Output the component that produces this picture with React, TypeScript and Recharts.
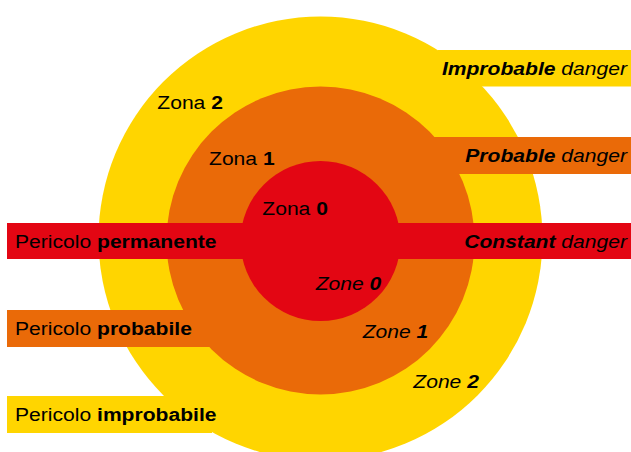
import React from 'react';
import { ComposedChart, XAxis, YAxis, Scatter, Cell } from 'recharts';

// Zones (outer to inner)
const zoneLevels = [2, 1, 0];
const zoneCenterX = [320.5, 320.5, 320.5];
const zoneCenterY = [238.5, 240.5, 241];
const zoneRadius = [222, 154, 80];
const zoneWordIt = 'Zona';
const zoneWordEn = 'Zone';

// Danger bands (same order as zones)
const dangerWordIt = 'Pericolo';
const dangerIt = ['improbabile', 'probabile', 'permanente'];
const dangerEn = ['Improbable', 'Probable', 'Constant'];
const dangerWordEn = 'danger';
const leftBandTop = [396, 310, 223];
const leftBandBottom = [433, 347, 259];
const leftBandStart = [7, 7, 7];
const leftBandEnd = [212, 215, 330];
const rightBandTop = [50, 137, 223];
const rightBandBottom = [86.5, 174, 259];
const rightBandStart = [438, 430, 320];
const rightBandEnd = [631, 631, 631];

// Label anchor points for zone names
const itLabelX = [157.3, 209, 262.3];
const itLabelY = [109, 165, 215];
const enLabelX = [413.3, 362.7, 315.7];
const enLabelY = [388.3, 338.3, 290];

const COLORS = ['#FFD500', '#EA6A08', '#E30613'];
const FONT = "'Liberation Sans', Arial, Helvetica, sans-serif";
const FS = 19;
const SX = 1.11;

// chart domain equals pixel size, so 1 data unit = 1 px
const W = 631;
const H = 452;

const zoneData = zoneLevels.map((lvl, i) => ({ x: zoneCenterX[i], y: zoneCenterY[i], r: zoneRadius[i], level: lvl, idx: i }));
const leftBandData = zoneLevels.map((lvl, i) => ({
  x: leftBandStart[i], y: leftBandTop[i], w: leftBandEnd[i] - leftBandStart[i], h: leftBandBottom[i] - leftBandTop[i], idx: i,
}));
const rightBandData = zoneLevels.map((lvl, i) => ({
  x: rightBandStart[i], y: rightBandTop[i], w: rightBandEnd[i] - rightBandStart[i], h: rightBandBottom[i] - rightBandTop[i], idx: i,
}));
const itLabelData = zoneLevels.map((lvl, i) => ({ x: itLabelX[i], y: itLabelY[i], level: lvl }));
const enLabelData = zoneLevels.map((lvl, i) => ({ x: enLabelX[i], y: enLabelY[i], level: lvl }));

type Part = { text: string; bold?: boolean };

function MixedText({ x, y, anchor, italic, parts }: { x: number; y: number; anchor: 'start' | 'end'; italic?: boolean; parts: Part[] }) {
  return (
    <text
      transform={`translate(${x},${y}) scale(${SX},1)`}
      x={0}
      y={0}
      textAnchor={anchor}
      fontFamily={FONT}
      fontSize={FS}
      fill="#000"
      fontStyle={italic ? 'italic' : 'normal'}
      style={{ whiteSpace: 'pre' }}
    >
      {parts.map((p, i) => (
        <tspan key={i} fontWeight={p.bold ? 'bold' : 'normal'}>{p.text}</tspan>
      ))}
    </text>
  );
}

const CircleShape = (props: any) => {
  const { cx, cy, payload } = props;
  return <circle cx={cx} cy={cy} r={payload.r} fill={COLORS[payload.idx]} />;
};

const LeftBandShape = (props: any) => {
  const { cx, cy, payload } = props;
  const i = payload.idx;
  return (
    <g>
      <rect x={cx} y={cy} width={payload.w} height={payload.h} fill={COLORS[i]} />
      <MixedText
        x={cx + 8}
        y={cy + payload.h / 2 + 6.7}
        anchor="start"
        parts={[{ text: dangerWordIt + ' ' }, { text: dangerIt[i], bold: true }]}
      />
    </g>
  );
};

const RightBandShape = (props: any) => {
  const { cx, cy, payload } = props;
  const i = payload.idx;
  return (
    <g>
      <rect x={cx} y={cy} width={payload.w} height={payload.h} fill={COLORS[i]} />
      <MixedText
        x={cx + payload.w - 4}
        y={cy + payload.h / 2 + 6.7}
        anchor="end"
        italic
        parts={[{ text: dangerEn[i], bold: true }, { text: ' ' + dangerWordEn }]}
      />
    </g>
  );
};

const ItLabelShape = (props: any) => {
  const { cx, cy, payload } = props;
  return <MixedText x={cx} y={cy} anchor="start" parts={[{ text: zoneWordIt + ' ' }, { text: String(payload.level), bold: true }]} />;
};

const EnLabelShape = (props: any) => {
  const { cx, cy, payload } = props;
  return <MixedText x={cx} y={cy} anchor="start" italic parts={[{ text: zoneWordEn + ' ' }, { text: String(payload.level), bold: true }]} />;
};

export default function App() {
  return (
    <div style={{ position: 'absolute', left: 0, top: 0, width: W, height: H, background: '#fff' }}>
      <ComposedChart width={W} height={H} margin={{ top: 0, right: 0, bottom: 0, left: 0 }}>
        <XAxis type="number" dataKey="x" domain={[0, W]} hide allowDataOverflow />
        <YAxis type="number" dataKey="y" domain={[0, H]} reversed hide allowDataOverflow />
        <Scatter data={zoneData} isAnimationActive={false} shape={CircleShape} />
        <Scatter data={leftBandData} isAnimationActive={false} shape={LeftBandShape} />
        <Scatter data={rightBandData} isAnimationActive={false} shape={RightBandShape} />
        <Scatter data={itLabelData} isAnimationActive={false} shape={ItLabelShape} />
        <Scatter data={enLabelData} isAnimationActive={false} shape={EnLabelShape} />
      </ComposedChart>
    </div>
  );
}
